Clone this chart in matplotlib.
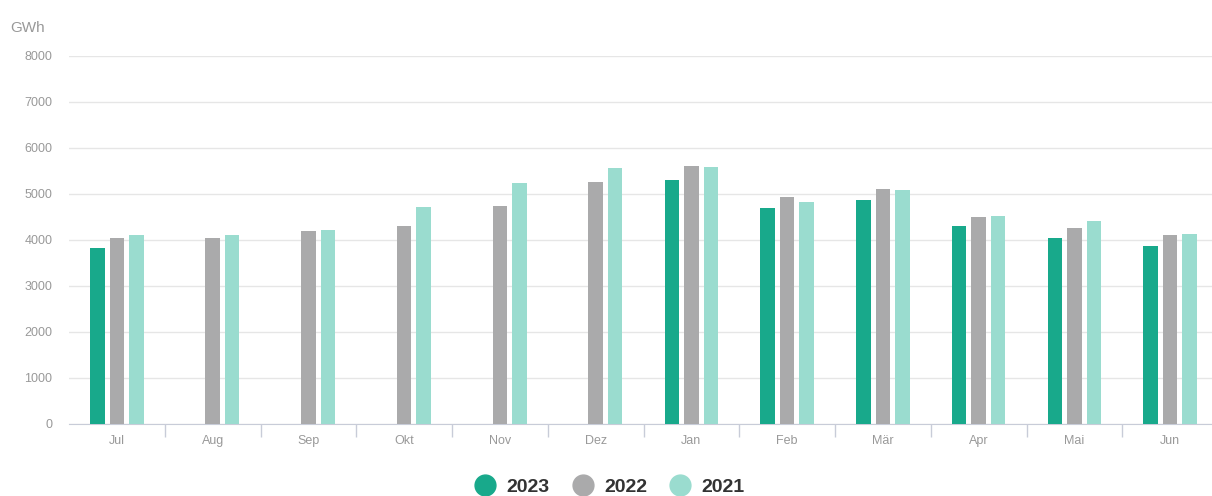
import matplotlib
matplotlib.use("Agg")
import matplotlib.pyplot as plt
import numpy as np
from matplotlib.lines import Line2D

months = ["Jul", "Aug", "Sep", "Okt", "Nov", "Dez", "Jan", "Feb", "Mär", "Apr", "Mai", "Jun"]
y2023 = [3830, None, None, None, None, None, 5300, 4690, 4860, 4300, 4050, 3880]
y2022 = [4050, 4050, 4195, 4300, 4750, 5260, 5615, 4940, 5110, 4490, 4270, 4100]
y2021 = [4100, 4100, 4215, 4720, 5230, 5560, 5590, 4830, 5080, 4530, 4410, 4130]
series = [("2023", y2023, "#18a98b"), ("2022", y2022, "#aaaaab"), ("2021", y2021, "#9adccf")]
yticks = [0, 1000, 2000, 3000, 4000, 5000, 6000, 7000, 8000]

plt.rcParams['font.family'] = ['Liberation Sans', 'DejaVu Sans']
fig = plt.figure(figsize=(12.12, 4.96), dpi=100)
ax = fig.add_axes([69/1212, 1-424/496, (1218-69)/1212, (424-56)/496])

x = np.arange(len(months))
offs = [-0.204, 0.0, 0.204]
w = 0.15
for (name, vals, col), o in zip(series, offs):
    xs = [xi + o for xi, v in zip(x, vals) if v is not None]
    vs = [v for v in vals if v is not None]
    ax.bar(xs, vs, width=w, color=col, zorder=3)

ax.set_xlim(-0.5, len(months) - 0.5)
ax.set_ylim(0, 8000)
ax.set_yticks(yticks)
ax.set_yticklabels([str(t) for t in yticks], fontsize=9, color="#999999")
ax.yaxis.grid(True, color="#e6e6e6", linewidth=1, zorder=0)
ax.tick_params(axis="y", length=0, pad=12)
ax.set_xticks(x)
ax.set_xticklabels(months, fontsize=9, color="#999999")
ax.set_xticks(np.arange(0.5, len(months) - 0.5, 1), minor=True)
ax.tick_params(axis="x", which="major", length=0, pad=8)
ax.tick_params(axis="x", which="minor", length=9, color="#c8ccd8", width=1)
for s in ["top", "right", "left"]:
    ax.spines[s].set_visible(False)
ax.spines["bottom"].set_color("#c8ccd8")

fig.text(10/1212, 1-28/496, "GWh", fontsize=11, color="#999999", va="center", ha="left")

handles = [Line2D([0], [0], marker="o", linestyle="", markersize=15, markerfacecolor=c, markeredgecolor=c) for _, _, c in series]
fig.legend(handles, [s[0] for s in series], loc="center", bbox_to_anchor=(605/1212, 1-487/496), ncol=3,
           frameon=False, prop={"size": 14, "weight": "bold"}, handletextpad=0.1, columnspacing=0.7,
           labelcolor="#333333")

fig.savefig("out.png", dpi=100, facecolor="white")
